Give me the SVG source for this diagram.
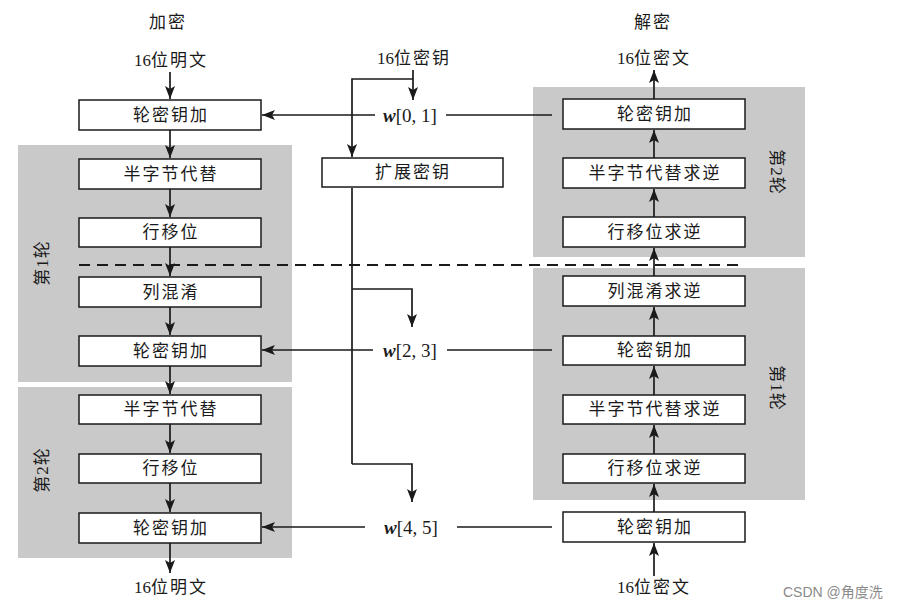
<svg xmlns="http://www.w3.org/2000/svg" width="897" height="607" viewBox="0 0 897 607">
<defs>
<style>
.bg{fill:#ffffff}
.round{fill:#c9c9c9}
.box{fill:#ffffff;stroke:#1a1a1a;stroke-width:1.5}
.t{font-family:"Liberation Serif","Noto Sans CJK SC",serif;font-size:17px;letter-spacing:2px;fill:#1a1a1a;text-anchor:middle;dominant-baseline:central}
.d{letter-spacing:0}
.rl{font-family:"Liberation Serif","Noto Sans CJK SC",serif;font-size:17px;letter-spacing:1px;fill:#1a1a1a;text-anchor:middle;dominant-baseline:central}
.w{font-family:"Liberation Serif",serif;font-size:19px;fill:#1a1a1a;text-anchor:middle;dominant-baseline:central}
.ln{fill:none;stroke:#1a1a1a;stroke-width:1.7}
.dash{fill:none;stroke:#1a1a1a;stroke-width:2;stroke-dasharray:11 7}
.wm{font-family:"Liberation Sans","Noto Sans CJK SC",sans-serif;font-size:14px;fill:#8a8a8a}
</style>
<marker id="ah" markerUnits="userSpaceOnUse" markerWidth="13" markerHeight="10" viewBox="0 0 13 10" refX="13" refY="5" orient="auto">
<path d="M0,0 L13,5 L0,10 L3,5 Z" fill="#1a1a1a"/>
</marker>
</defs>
<rect class="bg" x="0" y="0" width="897" height="607"/>

<g id="rounds">
<rect class="round" x="18" y="145" width="274" height="237"/>
<rect class="round" x="18" y="387" width="274" height="171"/>
<rect class="round" x="533" y="87" width="272" height="170"/>
<rect class="round" x="533" y="268" width="272" height="232"/>
<text class="rl" transform="translate(42,263) rotate(-90)">第1轮</text>
<text class="rl" transform="translate(42,470) rotate(-90)">第2轮</text>
<text class="rl" transform="translate(776,172) rotate(90)">第2轮</text>
<text class="rl" transform="translate(776,388) rotate(90)">第1轮</text>
</g>

<g id="titles">
<text class="t" x="168" y="22">加密</text>
<text class="t" x="653" y="22">解密</text>
<text class="t" x="171" y="60"><tspan class="d">16</tspan>位明文</text>
<text class="t" x="414" y="58"><tspan class="d">16</tspan>位密钥</text>
<text class="t" x="654" y="58"><tspan class="d">16</tspan>位密文</text>
<text class="t" x="171" y="587"><tspan class="d">16</tspan>位明文</text>
<text class="t" x="654" y="587"><tspan class="d">16</tspan>位密文</text>
</g>

<g id="connectors">
<line class="ln" x1="170" y1="72" x2="170" y2="99" marker-end="url(#ah)"/>
<line class="ln" x1="170" y1="130" x2="170" y2="158" marker-end="url(#ah)"/>
<line class="ln" x1="170" y1="189" x2="170" y2="217" marker-end="url(#ah)"/>
<line class="ln" x1="170" y1="247" x2="170" y2="276" marker-end="url(#ah)"/>
<line class="ln" x1="170" y1="307" x2="170" y2="335" marker-end="url(#ah)"/>
<line class="ln" x1="170" y1="366" x2="170" y2="394" marker-end="url(#ah)"/>
<line class="ln" x1="170" y1="424" x2="170" y2="453" marker-end="url(#ah)"/>
<line class="ln" x1="170" y1="483" x2="170" y2="512" marker-end="url(#ah)"/>
<line class="ln" x1="170" y1="543" x2="170" y2="573" marker-end="url(#ah)"/>
<line class="ln" x1="654" y1="576" x2="654" y2="543" marker-end="url(#ah)"/>
<line class="ln" x1="654" y1="512" x2="654" y2="484" marker-end="url(#ah)"/>
<line class="ln" x1="654" y1="454" x2="654" y2="425" marker-end="url(#ah)"/>
<line class="ln" x1="654" y1="395" x2="654" y2="366" marker-end="url(#ah)"/>
<line class="ln" x1="654" y1="336" x2="654" y2="307" marker-end="url(#ah)"/>
<line class="ln" x1="654" y1="276" x2="654" y2="248" marker-end="url(#ah)"/>
<line class="ln" x1="654" y1="217" x2="654" y2="189" marker-end="url(#ah)"/>
<line class="ln" x1="654" y1="158" x2="654" y2="130" marker-end="url(#ah)"/>
<line class="ln" x1="654" y1="99" x2="654" y2="70" marker-end="url(#ah)"/>
<line class="ln" x1="413" y1="70" x2="413" y2="100" marker-end="url(#ah)"/>
<polyline class="ln" points="413,79 352,79 352,157" marker-end="url(#ah)"/>
<line class="ln" x1="352" y1="188" x2="352" y2="464"/>
<polyline class="ln" points="352,289 412,289 412,327" marker-end="url(#ah)"/>
<polyline class="ln" points="352,464 412,464 412,502" marker-end="url(#ah)"/>
<line class="ln" x1="375" y1="115" x2="262" y2="115" marker-end="url(#ah)"/>
<line class="ln" x1="446" y1="115" x2="552" y2="115"/>
<line class="ln" x1="373" y1="350" x2="262" y2="350" marker-end="url(#ah)"/>
<line class="ln" x1="447" y1="350" x2="552" y2="350"/>
<line class="ln" x1="365" y1="527" x2="262" y2="527" marker-end="url(#ah)"/>
<line class="ln" x1="457" y1="527" x2="552" y2="527"/>
<line class="dash" x1="79" y1="265" x2="745" y2="265"/>
</g>

<g id="wlabels">
<text class="w" x="410" y="115"><tspan font-weight="bold" font-style="italic">w</tspan>[0, 1]</text>
<text class="w" x="410" y="350"><tspan font-weight="bold" font-style="italic">w</tspan>[2, 3]</text>
<text class="w" x="411" y="527"><tspan font-weight="bold" font-style="italic">w</tspan>[4, 5]</text>
</g>

<g id="enc-ark0"><rect class="box" x="79" y="100" width="182" height="30"/><text class="t" x="171" y="115">轮密钥加</text></g>
<g id="enc-sub1"><rect class="box" x="79" y="159" width="182" height="30"/><text class="t" x="171" y="174">半字节代替</text></g>
<g id="enc-shift1"><rect class="box" x="79" y="218" width="182" height="29"/><text class="t" x="171" y="232.5">行移位</text></g>
<g id="enc-mix1"><rect class="box" x="79" y="277" width="182" height="30"/><text class="t" x="171" y="292">列混淆</text></g>
<g id="enc-ark1"><rect class="box" x="79" y="336" width="182" height="30"/><text class="t" x="171" y="351">轮密钥加</text></g>
<g id="enc-sub2"><rect class="box" x="79" y="395" width="182" height="29"/><text class="t" x="171" y="409.5">半字节代替</text></g>
<g id="enc-shift2"><rect class="box" x="79" y="454" width="182" height="29"/><text class="t" x="171" y="468.5">行移位</text></g>
<g id="enc-ark2"><rect class="box" x="79" y="513" width="182" height="30"/><text class="t" x="171" y="528">轮密钥加</text></g>

<g id="keyexp"><rect class="box" x="322" y="158" width="181" height="29"/><text class="t" x="413" y="172.5">扩展密钥</text></g>

<g id="dec-ark2"><rect class="box" x="563" y="99" width="182" height="30"/><text class="t" x="655" y="114">轮密钥加</text></g>
<g id="dec-isub2"><rect class="box" x="563" y="158" width="182" height="30"/><text class="t" x="655" y="173">半字节代替求逆</text></g>
<g id="dec-ishift2"><rect class="box" x="563" y="217" width="182" height="30"/><text class="t" x="655" y="232">行移位求逆</text></g>
<g id="dec-imix1"><rect class="box" x="563" y="276" width="182" height="30"/><text class="t" x="655" y="291">列混淆求逆</text></g>
<g id="dec-ark1"><rect class="box" x="563" y="336" width="182" height="29"/><text class="t" x="655" y="350.5">轮密钥加</text></g>
<g id="dec-isub1"><rect class="box" x="563" y="395" width="182" height="29"/><text class="t" x="655" y="409.5">半字节代替求逆</text></g>
<g id="dec-ishift1"><rect class="box" x="563" y="454" width="182" height="29"/><text class="t" x="655" y="468.5">行移位求逆</text></g>
<g id="dec-ark0"><rect class="box" x="563" y="512" width="182" height="30"/><text class="t" x="655" y="527">轮密钥加</text></g>

<text class="wm" x="783" y="597">CSDN @角度洗</text>
</svg>
